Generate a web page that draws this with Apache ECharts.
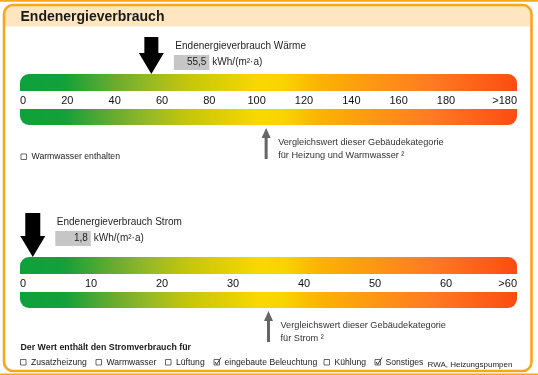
<!DOCTYPE html>
<html><head><meta charset="utf-8">
<script src="https://cdn.jsdelivr.net/npm/echarts@6/dist/echarts.min.js"></script>
<style>html,body{margin:0;padding:0;background:#fff}#c{width:538px;height:375px}</style>
</head><body><div id="c"></div>
<script>
// ---------- data ----------
const headerTitle = 'Endenergieverbrauch';

const heatTickValues = [0, 20, 40, 60, 80, 100, 120, 140, 160, 180];
const heatScaleMax = 210;
const heatOverflowLabel = '>180';
const heatValue = 55.5;
const heatValueText = '55,5';
const heatTitle = 'Endenergieverbrauch Wärme';
const heatCompareValue = 104;
const heatCompareLines = ['Vergleichswert dieser Gebäudekategorie', 'für Heizung und Warmwasser ²'];

const powerTickValues = [0, 10, 20, 30, 40, 50, 60];
const powerScaleMax = 70;
const powerOverflowLabel = '>60';
const powerValue = 1.8;
const powerValueText = '1,8';
const powerTitle = 'Endenergieverbrauch Strom';
const powerCompareValue = 35;
const powerCompareLines = ['Vergleichswert dieser Gebäudekategorie', 'für Strom ²'];

const unitText = 'kWh/(m²·a)';
const warmwaterNote = 'Warmwasser enthalten';
const warmwaterChecked = false;
const powerIncludesTitle = 'Der Wert enthält den Stromverbrauch für';
const powerItems = ['Zusatzheizung', 'Warmwasser', 'Lüftung', 'eingebaute Beleuchtung', 'Kühlung', 'Sonstiges'];
const powerItemsChecked = [false, false, false, true, false, true];
const powerOtherNote = 'RWA, Heizungspumpen';

// ---------- styles / layout ----------
const FONT = '"Liberation Sans", Arial, Helvetica, sans-serif';
const ORANGE = '#f8a61a';
const gradStops = [
  {offset: 0, color: '#0ea13a'}, {offset: 0.09, color: '#14a03a'}, {offset: 0.19, color: '#6aab30'},
  {offset: 0.27, color: '#9dbb22'}, {offset: 0.34, color: '#c6c60a'}, {offset: 0.48, color: '#f9d800'},
  {offset: 0.53, color: '#f9d400'}, {offset: 0.60, color: '#fbb402'}, {offset: 0.70, color: '#fd9a12'},
  {offset: 0.83, color: '#ff7a22'}, {offset: 1, color: '#fc4c12'}
];
const itemBoxX = [20.5, 96, 165.5, 214, 324, 375];

function renderScale(params, api) {
  const cs = params.coordSys;
  const x0 = api.coord([api.value(0), 0])[0];
  const x1 = api.coord([api.value(1), 0])[0];
  const mk = () => new echarts.graphic.LinearGradient(0, 0, 1, 0, gradStops);
  return {type: 'group', children: [
    {type: 'rect', shape: {x: x0, y: cs.y, width: x1 - x0, height: 17, r: [9, 9, 0, 0]}, style: {fill: mk()}},
    {type: 'rect', shape: {x: x0, y: cs.y + cs.height - 16, width: x1 - x0, height: 16, r: [0, 0, 9, 9]}, style: {fill: mk()}}
  ]};
}

function makeIndicator(arrowLen, shaftHalf, title, valueText) {
  return function (params, api) {
    const cs = params.coordSys;
    const x = api.coord([api.value(0), 1])[0];
    const tip = cs.y;
    const top = tip - arrowLen;
    const hb = tip - 21;
    const bx = x + 22.5, bw = 35.5;
    return {type: 'group', children: [
      {type: 'polygon', shape: {points: [[x - shaftHalf, top], [x + shaftHalf, top], [x + shaftHalf, hb], [x + 12.5, hb], [x, tip], [x - 12.5, hb], [x - shaftHalf, hb]]}, style: {fill: '#000'}},
      {type: 'text', x: x + 24, y: top + 9.5, style: {text: title, font: '10px ' + FONT, fill: '#1e1e1e', verticalAlign: 'middle'}},
      {type: 'rect', shape: {x: bx, y: top + 18, width: bw, height: 15}, style: {fill: '#c6c6c6'}},
      {type: 'text', x: bx + bw - 3, y: top + 25.5, style: {text: valueText, font: '10px ' + FONT, fill: '#1e1e1e', align: 'right', verticalAlign: 'middle'}},
      {type: 'text', x: bx + bw + 3, y: top + 25.5, style: {text: unitText, font: '10px ' + FONT, fill: '#1e1e1e', verticalAlign: 'middle'}}
    ]};
  };
}

function makeCompare(lines) {
  return function (params, api) {
    const cs = params.coordSys;
    const x = api.coord([api.value(0), 0])[0];
    const b = cs.y + cs.height;
    return {type: 'group', children: [
      {type: 'polygon', shape: {points: [[x, b + 3], [x + 4.5, b + 13], [x + 1.5, b + 13], [x + 1.5, b + 34], [x - 1.5, b + 34], [x - 1.5, b + 13], [x - 4.5, b + 13]]}, style: {fill: '#666'}},
      {type: 'text', x: x + 12, y: b + 17, style: {text: lines[0], font: '9.2px ' + FONT, fill: '#333', verticalAlign: 'middle'}},
      {type: 'text', x: x + 12, y: b + 30.5, style: {text: lines[1], font: '9.2px ' + FONT, fill: '#333', verticalAlign: 'middle'}}
    ]};
  };
}

function xAxisFor(gridIndex, ticks, max, overflow) {
  return {
    type: 'value', gridIndex, min: 0, max, position: 'bottom', offset: -33,
    axisLine: {show: false}, axisTick: {show: false}, splitLine: {show: false},
    axisLabel: {
      customValues: ticks.concat([max]), margin: 3,
      formatter: v => (v === max ? overflow : String(v)),
      alignMinLabel: 'left', alignMaxLabel: 'right',
      color: '#111', fontSize: 11, fontFamily: FONT
    }
  };
}

function checkbox(x, yMid, checked) {
  const els = [{type: 'rect', shape: {x: x, y: yMid - 3, width: 5.5, height: 5.5}, style: {fill: 'none', stroke: '#444', lineWidth: 0.8}}];
  if (checked) {
    els.push({type: 'polyline', shape: {points: [[x + 1, yMid - 0.5], [x + 2.6, yMid + 2], [x + 7, yMid - 5]]}, style: {stroke: '#333', lineWidth: 1, fill: 'none'}});
  }
  return els;
}

const graphics = [
  {type: 'rect', shape: {x: 0, y: 0, width: 538, height: 1.8}, style: {fill: ORANGE}, z: 0},
  {type: 'rect', shape: {x: 5, y: 6, width: 525.5, height: 20.5, r: [8, 8, 0, 0]}, style: {fill: '#fde6c0'}, z: 0},
  {type: 'rect', shape: {x: 4, y: 5, width: 527.5, height: 366, r: 9}, style: {fill: 'none', stroke: ORANGE, lineWidth: 2.6}, z: 1},
  {type: 'rect', shape: {x: 0, y: 373.5, width: 538, height: 2}, style: {fill: ORANGE}, z: 0},
  {type: 'text', x: 20.5, y: 17.5, style: {text: headerTitle, font: 'bold 14px ' + FONT, fill: '#1a1a1a', verticalAlign: 'middle'}, z: 2},
  ...checkbox(21, 157, warmwaterChecked),
  {type: 'text', x: 31.5, y: 157, style: {text: warmwaterNote, font: '8.7px ' + FONT, fill: '#222', verticalAlign: 'middle'}},
  {type: 'text', x: 20.5, y: 347.5, style: {text: powerIncludesTitle, font: 'bold 8.8px ' + FONT, fill: '#1a1a1a', verticalAlign: 'middle'}}
];
powerItems.forEach((name, i) => {
  graphics.push(...checkbox(itemBoxX[i], 362.5, powerItemsChecked[i]));
  graphics.push({type: 'text', x: itemBoxX[i] + 10.5, y: 362.5, style: {text: name, font: '8.6px ' + FONT, fill: '#222', verticalAlign: 'middle'}});
});
graphics.push({type: 'text', x: 427.5, y: 364.5, style: {text: powerOtherNote, font: '8px ' + FONT, fill: '#222', verticalAlign: 'middle'}});

const chart = echarts.init(document.getElementById('c'), null, {renderer: 'canvas'});
chart.setOption({
  backgroundColor: '#fff',
  animation: false,
  textStyle: {fontFamily: FONT},
  grid: [
    {left: 20, right: 21, top: 74, height: 51},
    {left: 20, right: 21, top: 257, height: 51}
  ],
  xAxis: [
    xAxisFor(0, heatTickValues, heatScaleMax, heatOverflowLabel),
    xAxisFor(1, powerTickValues, powerScaleMax, powerOverflowLabel)
  ],
  yAxis: [
    {type: 'value', gridIndex: 0, min: 0, max: 1, show: false},
    {type: 'value', gridIndex: 1, min: 0, max: 1, show: false}
  ],
  graphic: graphics,
  series: [
    {type: 'custom', xAxisIndex: 0, yAxisIndex: 0, silent: true, renderItem: renderScale, data: [[0, heatScaleMax]]},
    {type: 'custom', xAxisIndex: 0, yAxisIndex: 0, silent: true, renderItem: makeIndicator(37, 7, heatTitle, heatValueText), data: [[heatValue]]},
    {type: 'custom', xAxisIndex: 0, yAxisIndex: 0, silent: true, renderItem: makeCompare(heatCompareLines), data: [[heatCompareValue]]},
    {type: 'custom', xAxisIndex: 1, yAxisIndex: 1, silent: true, renderItem: renderScale, data: [[0, powerScaleMax]]},
    {type: 'custom', xAxisIndex: 1, yAxisIndex: 1, silent: true, renderItem: makeIndicator(44, 7.5, powerTitle, powerValueText), data: [[powerValue]]},
    {type: 'custom', xAxisIndex: 1, yAxisIndex: 1, silent: true, renderItem: makeCompare(powerCompareLines), data: [[powerCompareValue]]}
  ]
});
</script></body></html>
